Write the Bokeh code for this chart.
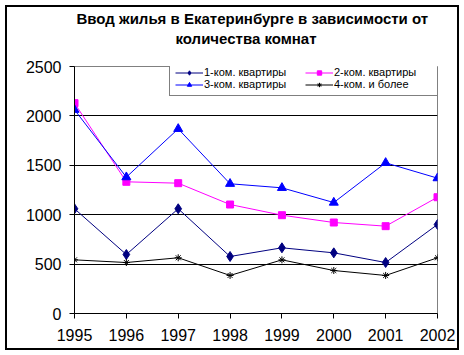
from bokeh.plotting import figure
from bokeh.models import (Range1d, FixedTicker, Legend, LegendItem, Title)
from bokeh.embed import file_html
from bokeh.resources import INLINE

years = [1995, 1996, 1997, 1998, 1999, 2000, 2001, 2002]
one_room = [1060, 597, 1060, 577, 665, 614, 516, 901]
two_room = [2129, 1333, 1319, 1103, 995, 921, 884, 1177]
three_room = [2062, 1380, 1869, 1313, 1272, 1123, 1525, 1370]
four_plus = [543, 516, 564, 385, 543, 435, 385, 564]

series_names = ["1-ком. квартиры", "2-ком. квартиры", "3-ком. квартиры", "4-ком. и более"]
title_lines = ["Ввод жилья в Екатеринбурге в зависимости от", "количества комнат"]
y_ticks = [0, 500, 1000, 1500, 2000, 2500]
grid_ticks = [500, 1000, 1500, 2000]

FONT = "Liberation Sans"

p = figure(output_backend="svg", toolbar_location=None,
           frame_width=363, frame_height=247,
           min_border_left=67, min_border_right=20,
           min_border_top=59, min_border_bottom=35,
           x_range=Range1d(1995, 2002), y_range=Range1d(0, 2500))
p.styles = {"border": "2px solid black", "margin-left": "5px", "margin-top": "5px"}
p.background_fill_color = "white"
p.border_fill_color = "white"
p.outline_line_color = "#808080"
p.outline_line_width = 1

p.xgrid.visible = False
p.ygrid.ticker = FixedTicker(ticks=grid_ticks)
p.ygrid.grid_line_color = "black"
p.ygrid.grid_line_width = 1

for ax in (p.xaxis[0], p.yaxis[0]):
    ax.axis_line_color = "black"
    ax.major_tick_line_color = "black"
    ax.major_tick_out = 5
    ax.major_tick_in = 0
    ax.minor_tick_line_color = None
    ax.major_label_text_font = FONT
    ax.major_label_text_font_size = "16px"
    ax.major_label_text_color = "black"
    ax.major_label_standoff = 8
p.xaxis[0].major_label_standoff = 10
p.xaxis.ticker = FixedTicker(ticks=years)
p.yaxis.ticker = FixedTicker(ticks=y_ticks)

l1 = p.line(years, one_room, line_color="#000080", line_width=1)
m1 = p.scatter(years, one_room, marker="diamond", size=10, fill_color="#000080", line_color="#000080")
l2 = p.line(years, two_room, line_color="#FF00FF", line_width=1)
m2 = p.scatter(years, two_room, marker="square", size=7, fill_color="#FF00FF", line_color="#FF00FF")
l3 = p.line(years, three_room, line_color="#0000FF", line_width=1)
m3 = p.scatter(years, three_room, marker="triangle", size=9, fill_color="#0000FF", line_color="#0000FF")
l4 = p.line(years, four_plus, line_color="black", line_width=1)
m4 = p.scatter(years, four_plus, marker="asterisk", size=7, line_color="black")

legend = Legend(items=[
    LegendItem(label=series_names[0], renderers=[l1, m1]),
    LegendItem(label=series_names[2], renderers=[l3, m3]),
    LegendItem(label=series_names[1], renderers=[l2, m2]),
    LegendItem(label=series_names[3], renderers=[l4, m4]),
], location=(95, 217), ncols=2)
legend.label_text_font = FONT
legend.label_text_font_size = "11px"
legend.label_text_color = "black"
legend.glyph_width = 28
legend.glyph_height = 11
legend.label_height = 11
legend.label_standoff = 1
legend.label_width = 101
legend.padding = 5
legend.spacing = 0
legend.margin = 0
legend.border_line_color = "black"
legend.border_line_width = 1
legend.background_fill_color = "white"
legend.background_fill_alpha = 1
p.add_layout(legend, "center")

spacer = Title(text=" ", text_font_size="4px", standoff=12)
t2 = Title(text=title_lines[1], align="left", offset=101, standoff=2,
           text_font=FONT, text_font_size="15px", text_font_style="bold",
           text_color="black")
t1 = Title(text=title_lines[0], align="left", offset=2, standoff=0,
           text_font=FONT, text_font_size="15px", text_font_style="bold",
           text_color="black")
p.add_layout(spacer, "above")
p.add_layout(t2, "above")
p.add_layout(t1, "above")

open("out.html", "w").write(file_html(p, INLINE))
